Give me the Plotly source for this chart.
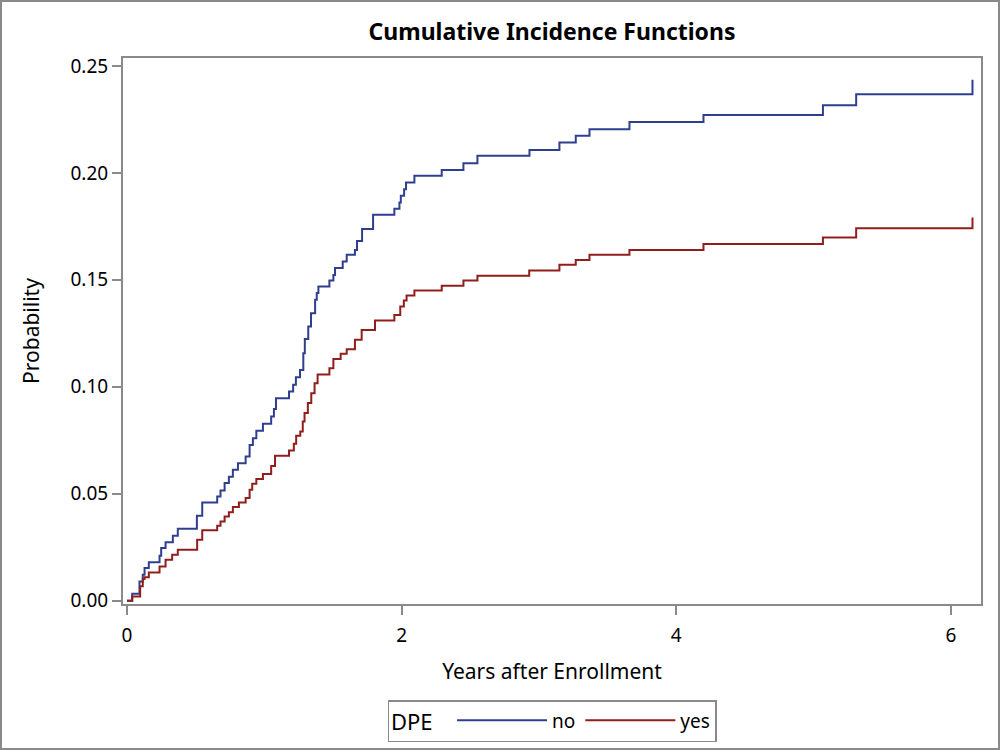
import plotly.graph_objects as go

# Step times (years) and cumulative incidence after each step
no_time = [0, 0.038, 0.091, 0.115, 0.128, 0.159, 0.237, 0.249, 0.281, 0.334, 0.37,
           0.509, 0.548, 0.657, 0.681, 0.711, 0.742, 0.771, 0.808, 0.864, 0.893,
           0.917, 0.942, 0.99, 1.05, 1.07, 1.085, 1.18, 1.21, 1.23, 1.26, 1.284,
           1.295, 1.32, 1.34, 1.37, 1.382, 1.394, 1.474, 1.503, 1.515, 1.571, 1.6,
           1.66, 1.675, 1.712, 1.792, 1.947, 1.984, 1.994, 2.018, 2.032, 2.093,
           2.292, 2.45, 2.552, 2.931, 3.149, 3.268, 3.368, 3.659, 4.198, 5.068,
           5.31, 6.157]
no_cif = [0, 0.0033, 0.009, 0.0121, 0.0153, 0.018, 0.021, 0.0246, 0.0273, 0.0304, 0.0336,
          0.0397, 0.0459, 0.0487, 0.0515, 0.055, 0.058, 0.0612, 0.0643, 0.0674, 0.0728,
          0.076, 0.0794, 0.0827, 0.0861, 0.0896, 0.0947, 0.0978, 0.101, 0.1045, 0.1079, 0.1157,
          0.1223, 0.1282, 0.1344, 0.1407, 0.1438, 0.1469, 0.1497, 0.1523, 0.1555, 0.1586, 0.1617,
          0.164, 0.1682, 0.1738, 0.1804, 0.1832, 0.1861, 0.1893, 0.1924, 0.1955, 0.1986,
          0.2014, 0.2045, 0.208, 0.2107, 0.2142, 0.2173, 0.2204, 0.2238, 0.2271, 0.2316,
          0.2368, 0.2435]

yes_time = [0, 0.038, 0.096, 0.115, 0.128, 0.159, 0.237, 0.281, 0.329, 0.37, 0.511,
            0.548, 0.657, 0.681, 0.711, 0.742, 0.771, 0.815, 0.864, 0.893, 0.912,
            0.942, 0.99, 1.05, 1.078, 1.18, 1.215, 1.232, 1.262, 1.28, 1.293, 1.317,
            1.342, 1.366, 1.388, 1.474, 1.503, 1.556, 1.6, 1.66, 1.709, 1.806, 1.947,
            1.99, 2.016, 2.036, 2.093, 2.292, 2.45, 2.552, 2.929, 3.149, 3.268, 3.368,
            3.659, 4.198, 5.068, 5.31, 6.157]
yes_cif = [0, 0.002, 0.0067, 0.0101, 0.011, 0.0132, 0.016, 0.0192, 0.0215, 0.0238, 0.0285,
           0.0329, 0.035, 0.037, 0.0394, 0.0413, 0.0438, 0.0459, 0.048, 0.0519, 0.0547,
           0.0569, 0.0592, 0.063, 0.0678, 0.0702, 0.0734, 0.0771, 0.0791, 0.0838, 0.0877, 0.0924,
           0.097, 0.1017, 0.1058, 0.1087, 0.113, 0.1154, 0.1176, 0.122, 0.1266, 0.131, 0.1336,
           0.1375, 0.1403, 0.1427, 0.145, 0.1472, 0.1497, 0.1519, 0.1544, 0.157, 0.1593, 0.1617,
           0.164, 0.1668, 0.1698, 0.1741, 0.1791]

x_ticks = [0, 2, 4, 6]
y_ticks = [0.00, 0.05, 0.10, 0.15, 0.20, 0.25]
y_tick_text = ["0.00", "0.05", "0.10", "0.15", "0.20", "0.25"]

FONT = "Noto Sans"
BLUE = "#2F3F8E"
RED = "#901E1A"
GRAY = "#8A8A8A"

fig = go.Figure()
fig.add_trace(go.Scatter(x=no_time, y=no_cif, mode="lines", name="no",
                         line=dict(color=BLUE, width=2, shape="hv")))
fig.add_trace(go.Scatter(x=yes_time, y=yes_cif, mode="lines", name="yes",
                         line=dict(color=RED, width=2, shape="hv")))

L, R, T, B = 123, 19, 58, 146
W, H = 1000, 750
pw, ph = W - L - R, H - T - B

fig.update_layout(
    width=W, height=H, autosize=False,
    margin=dict(l=L, r=R, t=T, b=B, pad=0, autoexpand=False),
    paper_bgcolor="white", plot_bgcolor="white",
    font=dict(family=FONT, color="black", size=18),
    title=dict(text="<b>Cumulative Incidence Functions</b>", x=0.5, xref="paper",
               xanchor="center", y=1 - 32 / H, yanchor="middle",
               font=dict(family=FONT, size=23, color="black")),
    xaxis=dict(range=[-0.029, 6.219], tickvals=x_ticks, ticks="outside", ticklen=9,
               tickcolor=GRAY, tickwidth=2, showgrid=False, zeroline=False,
               showline=True, linecolor=GRAY, linewidth=2, mirror=True,
               tickfont=dict(size=19), ticklabelstandoff=4,
               title=dict(text="Years after Enrollment", font=dict(size=21), standoff=18)),
    yaxis=dict(range=[-0.00154, 0.2537], tickvals=y_ticks, ticktext=y_tick_text,
               ticks="outside", ticklen=9, tickcolor=GRAY, tickwidth=2,
               showgrid=False, zeroline=False,
               showline=True, linecolor=GRAY, linewidth=2, mirror=True,
               tickfont=dict(size=19),
               title=dict(text="Probability", font=dict(size=21), standoff=25)),
    legend=dict(orientation="h", x=0.5, xanchor="center", y=(604 - 700) / ph,
                yanchor="top", bordercolor=GRAY, borderwidth=1.5, bgcolor="white",
                title=dict(text="DPE  ", font=dict(size=22), side="left"),
                font=dict(size=19), itemwidth=90, traceorder="normal",
                tracegroupgap=0),
    shapes=[dict(type="rect", xref="paper", yref="paper",
                 x0=(1 - L) / pw, x1=(999 - L) / pw,
                 y0=(T + ph - 749) / ph, y1=(T + ph - 1) / ph,
                 line=dict(color=GRAY, width=2), fillcolor="rgba(0,0,0,0)", layer="below")],
)

fig.write_html("out.html", config={"displayModeBar": False},
               post_script="document.body.style.margin='0';document.body.style.padding='0';")
